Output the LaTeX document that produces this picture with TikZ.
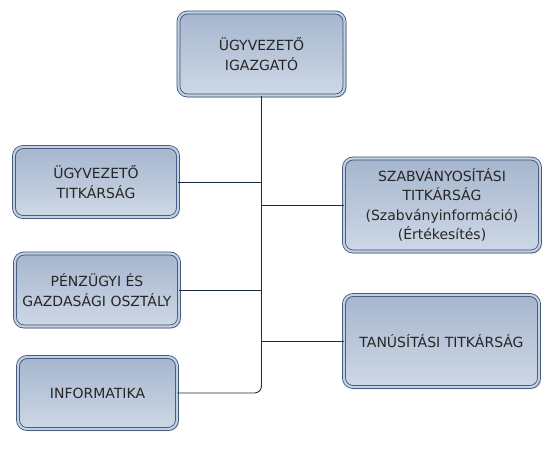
\documentclass[tikz,border=0pt]{standalone}
\usepackage{fontspec}
\setmainfont{DejaVu Sans}
\usetikzlibrary{shadows}
\definecolor{bdr}{RGB}{52,78,116}
\definecolor{ftop}{RGB}{166,182,206}
\definecolor{fbot}{RGB}{206,216,230}
\definecolor{gap}{RGB}{196,208,226}
\definecolor{conn}{RGB}{25,42,70}
\tikzset{
  orgbox/.style={draw=bdr, line width=0.8pt, double=gap, double distance=2.2pt,
    rounded corners=9pt, top color=ftop, bottom color=fbot, align=center,
    font=\fontsize{14}{19.5}\selectfont, text=black!85,
    drop shadow={shadow xshift=2pt, shadow yshift=-2pt, fill=black!35, opacity=0.5}},
  link/.style={draw=conn, line width=0.9pt}
}
\begin{document}
\begin{tikzpicture}[x=1pt,y=-1pt]
\useasboundingbox (0,0) rectangle (554,448);
\node[orgbox, minimum width=166pt, minimum height=83pt] (top) at (261.5,54) {ÜGYVEZETŐ\\IGAZGATÓ};
\node[orgbox, minimum width=164pt, minimum height=70pt] (l1) at (96,182) {ÜGYVEZETŐ\\TITKÁRSÁG};
\node[orgbox, minimum width=164pt, minimum height=73pt] (l2) at (97,290) {PÉNZÜGYI ÉS\\GAZDASÁGI OSZTÁLY};
\node[orgbox, minimum width=159pt, minimum height=72pt] (l3) at (97.5,393) {INFORMATIKA};
\node[orgbox, minimum width=196pt, minimum height=93pt] (r1) at (442,205) {SZABVÁNYOSÍTÁSI\\TITKÁRSÁG\\(Szabványinformáció)\\(Értékesítés)};
\node[orgbox, minimum width=195pt, minimum height=92pt] (r2) at (441.5,341) {TANÚSÍTÁSI TITKÁRSÁG};
\draw[link, rounded corners=7pt] (top.south) |- (l3.east);
\draw[link] (l1.east) -- (l1.east -| top.south);
\draw[link] (l2.east) -- (l2.east -| top.south);
\draw[link] (r1.west -| top.south) -- (r1.west);
\draw[link] (r2.west -| top.south) -- (r2.west);
\end{tikzpicture}
\end{document}
